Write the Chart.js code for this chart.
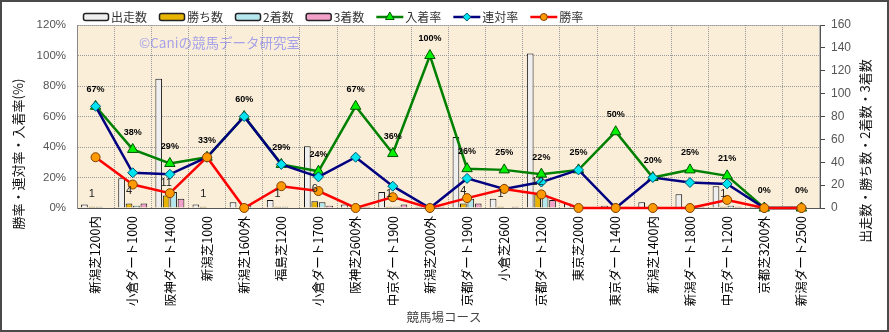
<!DOCTYPE html>
<html lang="ja">
<head>
<meta charset="utf-8">
<title>競馬場コース別成績</title>
<script src="https://cdn.jsdelivr.net/npm/chart.js@4.4.1/dist/chart.umd.min.js"></script>
<style>
  html, body { margin: 0; padding: 0; background: #fff; }
  #quadro { width: 889px; height: 332px; }
</style>
</head>
<body>
<div id="quadro"><canvas id="grafico" width="889" height="332"></canvas></div>
<script>
// Rótulos do eixo X (cursos)
const cursos = ['新潟芝1200内', '小倉ダート1000', '阪神ダート1400', '新潟芝1000', '新潟芝1600外', '福島芝1200',
    '小倉ダート1700', '阪神芝2600外', '中京ダート1900', '新潟芝2000外', '京都ダート1900', '小倉芝2600',
    '京都ダート1200', '東京芝2000', '東京ダート1400', '新潟芝1400内', '新潟ダート1800', '中京ダート1200',
    '京都芝3200外', '新潟ダート2500'];

// Contagens (eixo da direita)
const corridas = [3, 26, 113, 3, 5, 7, 54, 3, 14, 1, 62, 8, 135, 4, 2, 5, 12, 19, 1, 1];
const vitorias = [1, 4, 11, 1, 0, 1, 6, 0, 1, 0, 4, 1, 12, 0, 0, 0, 0, 1, 0, 0];
const segundos = [1, 2, 14, 0, 3, 1, 5, 1, 1, 0, 8, 0, 11, 1, 0, 1, 2, 2, 0, 0];
const terceiros = [0, 4, 8, 0, 0, 0, 2, 1, 3, 1, 4, 1, 7, 0, 1, 0, 1, 1, 0, 0];

// Taxas em % (eixo da esquerda)
const taxaInchaku = [66.7, 38.4, 29.2, 33.3, 60, 28.6, 24.1, 66.7, 35.7, 100, 25.8, 25, 22.2, 25, 50, 20, 25, 21.1, 0, 0];
const taxaRentai = [66.7, 23.1, 22.1, 33.3, 60, 28.6, 20.4, 33.3, 14.3, 0, 19.4, 12.5, 17.0, 25, 0, 20, 16.7, 15.8, 0, 0];
const taxaShouritsu = [33.3, 15.4, 9.7, 33.3, 0, 14.3, 11.1, 0, 7.1, 0, 6.5, 12.5, 8.9, 0, 0, 0, 0, 5.3, 0, 0];

// Marcas dos eixos
const ticksTaxa = [0, 20, 40, 60, 80, 100, 120];
const ticksContagem = [0, 20, 40, 60, 80, 100, 120, 140, 160];

const FONTE_JP = "'Noto Sans CJK JP', sans-serif";
const FONTE_LAT = "'Liberation Sans', Arial, sans-serif";

// Plugin que desenha fundo, legenda, títulos e rótulos de valores
const decoracao = {
    id: 'decoracao',
    beforeDraw(chart) {
        const c = chart.ctx, a = chart.chartArea;
        c.save();
        c.fillStyle = '#FFFFFF';
        c.fillRect(0, 0, chart.width, chart.height);
        c.fillStyle = '#FAEED8';
        c.fillRect(a.left, a.top, a.right - a.left, a.bottom - a.top);
        c.strokeStyle = '#B8B8B8';
        c.lineWidth = 1;
        c.strokeRect(a.left + 0.5, a.top + 0.5, a.right - a.left - 1, a.bottom - a.top);
        c.restore();
    },
    beforeDatasetsDraw(chart) {
        const c = chart.ctx;
        c.save();
        c.font = '13.5px ' + FONTE_JP;
        c.fillStyle = 'rgba(130, 130, 240, 0.7)';
        c.textBaseline = 'middle';
        c.fillText('©Caniの競馬データ研究室', 139, 43);
        c.restore();
    },
    afterDatasetsDraw(chart) {
        const c = chart.ctx;
        c.save();
        c.textAlign = 'center';
        c.textBaseline = 'middle';
        c.fillStyle = '#222';
        // número de vitórias acima da barra dourada
        c.font = '11px ' + FONTE_LAT;
        chart.getDatasetMeta(1).data.forEach((el, i) => {
            if (vitorias[i] > 0) c.fillText(String(vitorias[i]), el.x, el.y - 12.5);
        });
        // porcentagem de 入着率 acima do triângulo
        c.fillStyle = '#000';
        c.font = 'bold 9px ' + FONTE_LAT;
        chart.getDatasetMeta(4).data.forEach((el, i) => {
            c.fillText(Math.round(taxaInchaku[i]) + '%', el.x, el.y - 17);
        });
        c.restore();
    },
    afterDraw(chart) {
        const c = chart.ctx;
        c.save();
        DesenharLegenda(chart, c);

        c.fillStyle = '#111';
        c.textAlign = 'center';
        c.textBaseline = 'middle';
        c.font = '13px ' + FONTE_JP;
        // título esquerdo
        c.save();
        c.translate(18, 154);
        c.rotate(-Math.PI / 2);
        c.fillText('勝率・連対率・入着率(%)', 0, 0);
        c.restore();
        // título direito
        c.save();
        c.translate(865, 151);
        c.rotate(-Math.PI / 2);
        c.fillText('出走数・勝ち数・2着数・3着数', 0, 0);
        c.restore();
        // título do eixo X
        c.fillStyle = '#444';
        c.font = '12.5px ' + FONTE_JP;
        c.fillText('競馬場コース', 444, 317);

        // moldura externa
        c.strokeStyle = '#4A4A4A';
        c.lineWidth = 2;
        c.strokeRect(1, 1, chart.width - 2, chart.height - 2);
        c.restore();
    }
};

function DesenharLegenda(chart, c) {
    let x = 83;
    const y = 17;
    c.font = '12px ' + FONTE_JP;
    c.textBaseline = 'middle';
    c.textAlign = 'left';
    chart.data.datasets.forEach(ds => {
        if (ds.type === 'line') {
            c.strokeStyle = ds.borderColor;
            c.lineWidth = 2.5;
            c.beginPath();
            c.moveTo(x, y);
            c.lineTo(x + 27, y);
            c.stroke();
            c.fillStyle = ds.pointBackgroundColor;
            c.strokeStyle = ds.pointBorderColor;
            c.lineWidth = 1;
            Chart.helpers.drawPoint(c, { pointStyle: ds.pointStyle, radius: ds.pointRadius - 1, rotation: 0, borderWidth: 1 }, x + 13.5, y);
            x += 29;
        } else {
            c.fillStyle = ds.backgroundColor;
            c.strokeStyle = '#222';
            c.lineWidth = 1.5;
            c.beginPath();
            c.roundRect(x + 0.5, y - 3.5, 25, 7, 2);
            c.fill();
            c.stroke();
            x += 28;
        }
        c.fillStyle = '#333';
        c.fillText(ds.label, x, y + 0.5);
        x += c.measureText(ds.label).width + 12;
    });
}

function GerarGrafico() {
    const ctx = document.getElementById('grafico').getContext('2d');
    const barra = { yAxisID: 'y1', borderColor: '#151515', borderWidth: 1, categoryPercentage: 0.8, barPercentage: 0.9 };
    const linha = { type: 'line', yAxisID: 'y', borderWidth: 2.5, tension: 0, fill: false, clip: false, pointBorderWidth: 1 };

    new Chart(ctx, {
        type: 'bar',
        data: {
            labels: cursos,
            datasets: [
                Object.assign({ label: '出走数', data: corridas, backgroundColor: '#EFEFEF', order: 3 }, barra),
                Object.assign({ label: '勝ち数', data: vitorias, backgroundColor: '#E8B400', order: 4 }, barra),
                Object.assign({ label: '2着数', data: segundos, backgroundColor: '#B4E6EE', order: 5 }, barra),
                Object.assign({ label: '3着数', data: terceiros, backgroundColor: '#F2A0CA', order: 6 }, barra),
                Object.assign({ label: '入着率', data: taxaInchaku, borderColor: '#008000', pointStyle: 'triangle', pointRadius: 6,
                    pointBackgroundColor: '#00F000', pointBorderColor: '#005500', order: 2 }, linha),
                Object.assign({ label: '連対率', data: taxaRentai, borderColor: '#000080', pointStyle: 'rectRot', pointRadius: 5,
                    pointBackgroundColor: '#00E4F0', pointBorderColor: '#00506A', order: 1 }, linha),
                Object.assign({ label: '勝率', data: taxaShouritsu, borderColor: '#FF0000', pointStyle: 'circle', pointRadius: 4.5,
                    pointBackgroundColor: '#FF9900', pointBorderColor: '#804000', order: 0 }, linha)
            ]
        },
        options: {
            responsive: false,
            animation: false,
            events: [],
            layout: { padding: { top: 25, left: 0, right: 0, bottom: 0 } },
            plugins: { legend: { display: false }, tooltip: { enabled: false } },
            scales: {
                x: {
                    afterFit: s => { s.height = 124; },
                    grid: { color: '#9A9A9A', offset: true, drawTicks: false },
                    border: { color: '#555', dash: [1, 1] },
                    ticks: { autoSkip: false, minRotation: 90, maxRotation: 90, padding: 8, color: '#000',
                        font: { family: FONTE_JP, size: 12.5 } }
                },
                y: {
                    position: 'left',
                    min: ticksTaxa[0], max: ticksTaxa[ticksTaxa.length - 1],
                    afterFit: s => { s.width = 77; },
                    grid: { color: '#9A9A9A', drawTicks: false },
                    border: { color: '#888', dash: [1, 1] },
                    ticks: { stepSize: ticksTaxa[1] - ticksTaxa[0], padding: 11, color: '#555',
                        font: { family: FONTE_LAT, size: 11.5 }, callback: v => v + '%' }
                },
                y1: {
                    position: 'right',
                    min: ticksContagem[0], max: ticksContagem[ticksContagem.length - 1],
                    afterFit: s => { s.width = 69; },
                    grid: { drawOnChartArea: false, tickLength: 5, tickColor: '#444' },
                    border: { color: '#555' },
                    ticks: { stepSize: ticksContagem[1] - ticksContagem[0], padding: 6, color: '#555',
                        font: { family: FONTE_LAT, size: 12 } }
                }
            }
        },
        plugins: [decoracao]
    });
}

GerarGrafico();
</script>
</body>
</html>
